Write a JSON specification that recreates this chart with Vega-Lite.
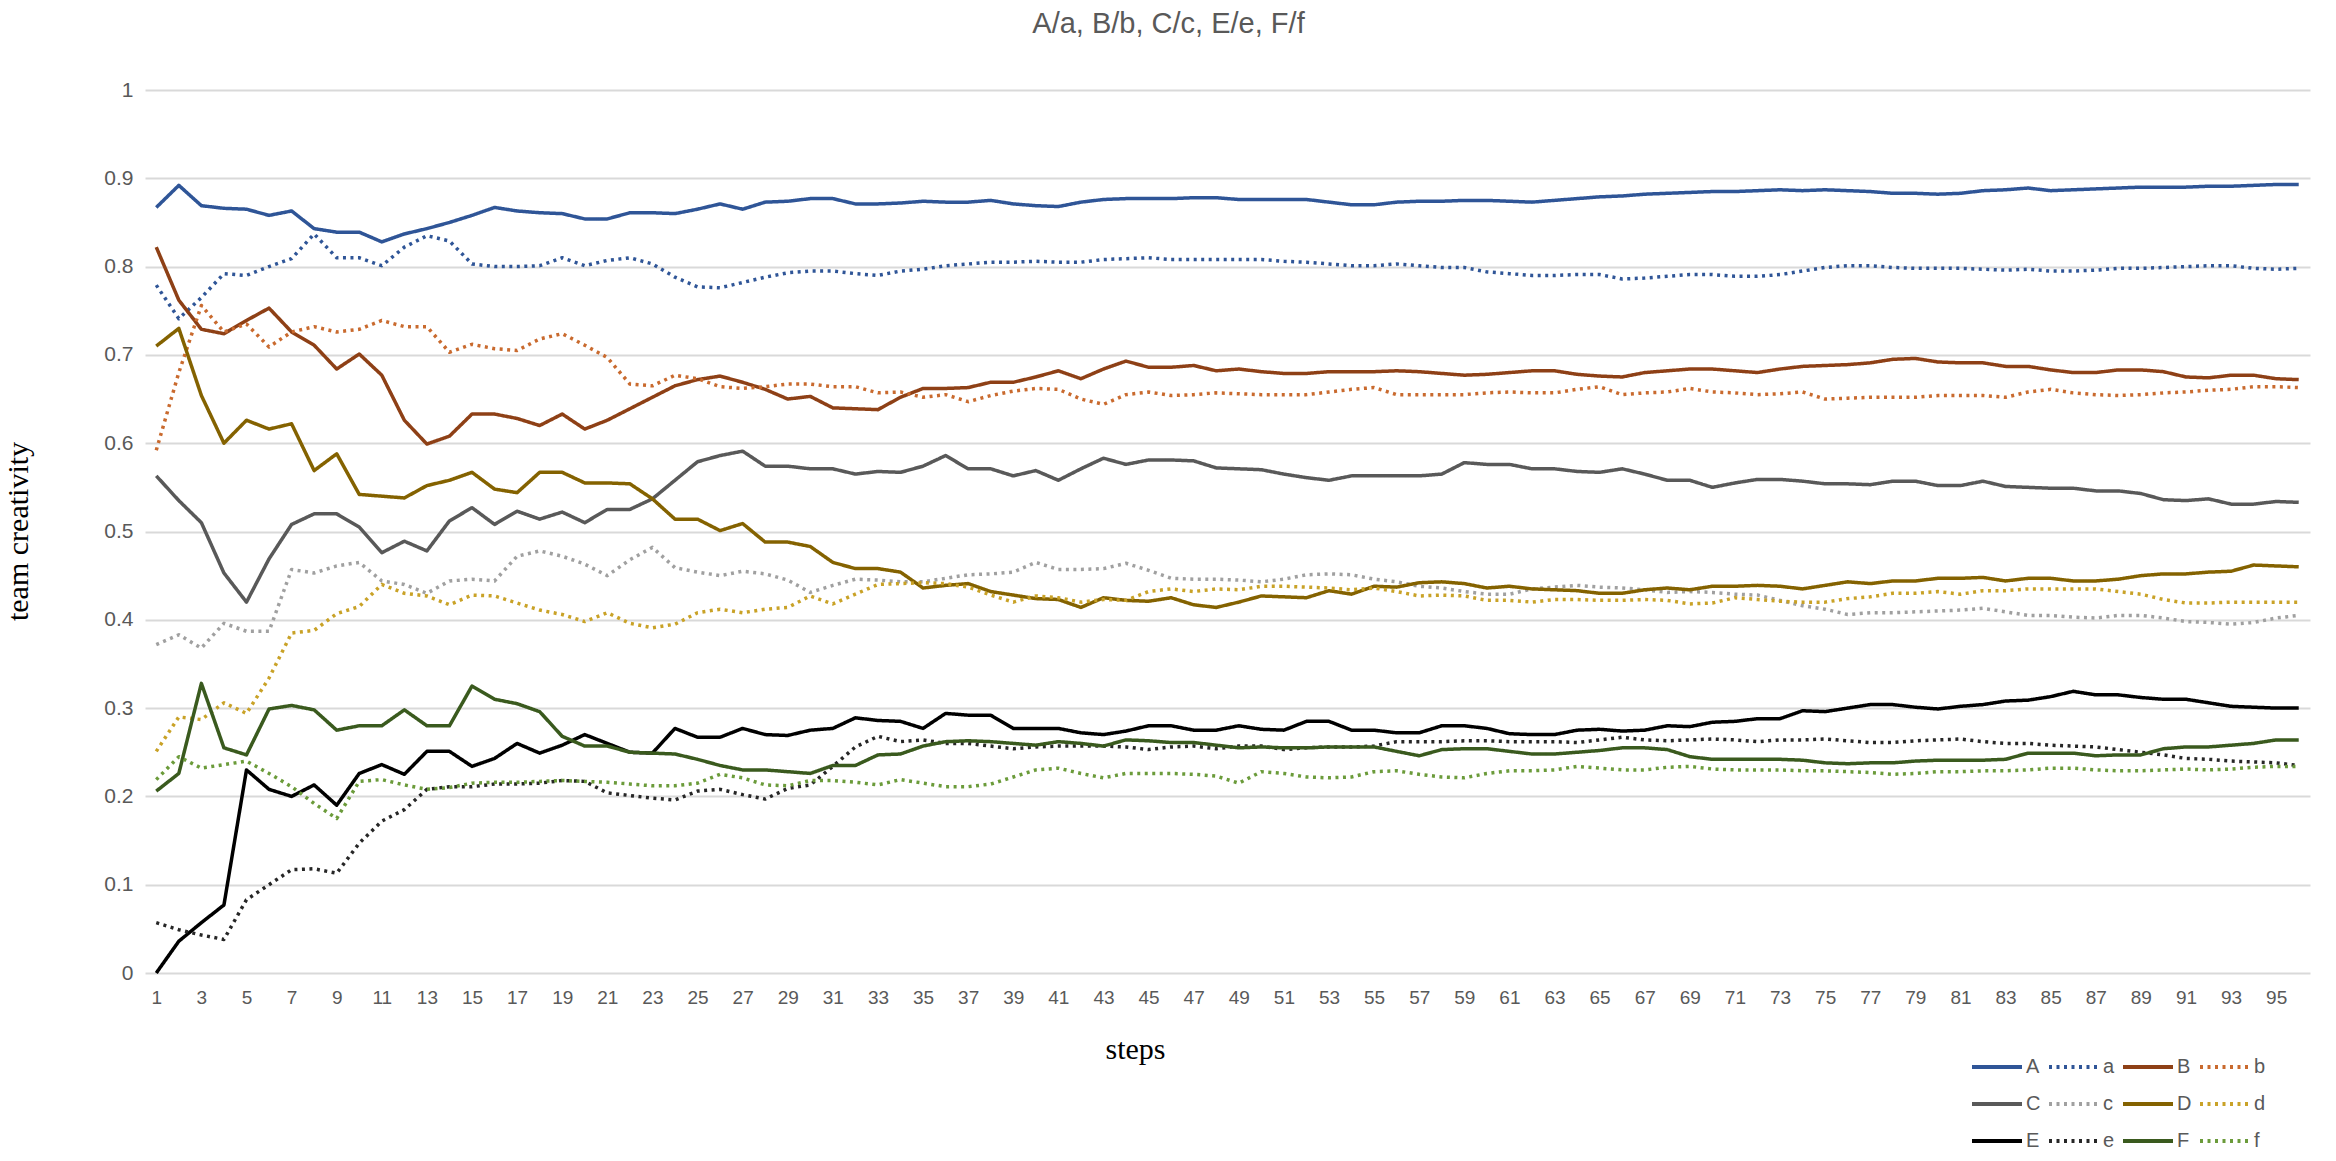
{
  "$schema": "https://vega.github.io/schema/vega-lite/v6.json",
  "width": 2165,
  "height": 883,
  "autosize": {"type": "none"},
  "padding": {"left": 145, "top": 90, "right": 26, "bottom": 188},
  "background": "white",
  "config": {"view": {"stroke": null}, "font": "Liberation Sans"},
  "title": {
    "text": "A/a, B/b, C/c, E/e, F/f",
    "fontSize": 29,
    "fontWeight": "normal",
    "color": "#595959",
    "font": "Liberation Sans",
    "frame": "group",
    "anchor": "middle",
    "dx": -59,
    "offset": 40
  },
  "data": {
    "values": [
      {"s":1,"A":0.867,"a":0.779,"B":0.822,"b":0.592,"C":0.563,"c":0.372,"D":0.71,"d":0.251,"E":0,"e":0.057,"F":0.206,"f":0.219},
      {"s":2,"A":0.892,"a":0.741,"B":0.762,"b":0.68,"C":0.535,"c":0.383,"D":0.73,"d":0.29,"E":0.036,"e":0.049,"F":0.226,"f":0.245},
      {"s":3,"A":0.869,"a":0.765,"B":0.729,"b":0.756,"C":0.51,"c":0.368,"D":0.654,"d":0.287,"E":0.057,"e":0.043,"F":0.328,"f":0.232},
      {"s":4,"A":0.866,"a":0.792,"B":0.724,"b":0.726,"C":0.453,"c":0.396,"D":0.6,"d":0.306,"E":0.077,"e":0.038,"F":0.255,"f":0.236},
      {"s":5,"A":0.865,"a":0.79,"B":0.739,"b":0.735,"C":0.42,"c":0.387,"D":0.626,"d":0.294,"E":0.23,"e":0.083,"F":0.247,"f":0.24},
      {"s":6,"A":0.858,"a":0.8,"B":0.753,"b":0.709,"C":0.469,"c":0.387,"D":0.616,"d":0.334,"E":0.208,"e":0.1,"F":0.299,"f":0.226},
      {"s":7,"A":0.863,"a":0.809,"B":0.726,"b":0.726,"C":0.508,"c":0.457,"D":0.622,"d":0.385,"E":0.2,"e":0.117,"F":0.303,"f":0.211},
      {"s":8,"A":0.843,"a":0.837,"B":0.711,"b":0.732,"C":0.52,"c":0.453,"D":0.569,"d":0.388,"E":0.213,"e":0.118,"F":0.298,"f":0.192},
      {"s":9,"A":0.839,"a":0.81,"B":0.684,"b":0.726,"C":0.52,"c":0.461,"D":0.588,"d":0.407,"E":0.19,"e":0.113,"F":0.275,"f":0.175},
      {"s":10,"A":0.839,"a":0.81,"B":0.701,"b":0.729,"C":0.505,"c":0.465,"D":0.542,"d":0.415,"E":0.226,"e":0.147,"F":0.28,"f":0.217},
      {"s":11,"A":0.828,"a":0.801,"B":0.677,"b":0.739,"C":0.476,"c":0.444,"D":0.54,"d":0.44,"E":0.236,"e":0.172,"F":0.28,"f":0.219},
      {"s":12,"A":0.837,"a":0.822,"B":0.626,"b":0.732,"C":0.489,"c":0.44,"D":0.538,"d":0.43,"E":0.225,"e":0.185,"F":0.298,"f":0.213},
      {"s":13,"A":0.843,"a":0.835,"B":0.599,"b":0.732,"C":0.478,"c":0.43,"D":0.552,"d":0.427,"E":0.251,"e":0.208,"F":0.28,"f":0.208},
      {"s":14,"A":0.85,"a":0.829,"B":0.608,"b":0.703,"C":0.512,"c":0.444,"D":0.558,"d":0.417,"E":0.251,"e":0.211,"F":0.28,"f":0.21},
      {"s":15,"A":0.858,"a":0.803,"B":0.633,"b":0.712,"C":0.527,"c":0.446,"D":0.567,"d":0.428,"E":0.234,"e":0.211,"F":0.325,"f":0.215},
      {"s":16,"A":0.867,"a":0.8,"B":0.633,"b":0.707,"C":0.508,"c":0.444,"D":0.548,"d":0.427,"E":0.243,"e":0.214,"F":0.31,"f":0.216},
      {"s":17,"A":0.863,"a":0.8,"B":0.628,"b":0.705,"C":0.523,"c":0.472,"D":0.544,"d":0.419,"E":0.26,"e":0.214,"F":0.305,"f":0.216},
      {"s":18,"A":0.861,"a":0.801,"B":0.62,"b":0.718,"C":0.514,"c":0.478,"D":0.567,"d":0.411,"E":0.249,"e":0.215,"F":0.296,"f":0.217},
      {"s":19,"A":0.86,"a":0.81,"B":0.633,"b":0.724,"C":0.522,"c":0.472,"D":0.567,"d":0.406,"E":0.258,"e":0.218,"F":0.268,"f":0.218},
      {"s":20,"A":0.854,"a":0.801,"B":0.616,"b":0.711,"C":0.51,"c":0.463,"D":0.555,"d":0.398,"E":0.27,"e":0.217,"F":0.257,"f":0.217},
      {"s":21,"A":0.854,"a":0.807,"B":0.626,"b":0.697,"C":0.525,"c":0.45,"D":0.555,"d":0.408,"E":0.26,"e":0.204,"F":0.257,"f":0.216},
      {"s":22,"A":0.861,"a":0.81,"B":0.639,"b":0.667,"C":0.525,"c":0.468,"D":0.554,"d":0.396,"E":0.25,"e":0.201,"F":0.25,"f":0.214},
      {"s":23,"A":0.861,"a":0.803,"B":0.652,"b":0.665,"C":0.537,"c":0.482,"D":0.537,"d":0.391,"E":0.249,"e":0.198,"F":0.249,"f":0.212},
      {"s":24,"A":0.86,"a":0.788,"B":0.665,"b":0.677,"C":0.558,"c":0.459,"D":0.514,"d":0.395,"E":0.277,"e":0.196,"F":0.248,"f":0.212},
      {"s":25,"A":0.865,"a":0.777,"B":0.672,"b":0.673,"C":0.579,"c":0.454,"D":0.514,"d":0.408,"E":0.267,"e":0.206,"F":0.242,"f":0.215},
      {"s":26,"A":0.871,"a":0.776,"B":0.676,"b":0.664,"C":0.586,"c":0.45,"D":0.501,"d":0.412,"E":0.267,"e":0.208,"F":0.235,"f":0.225},
      {"s":27,"A":0.865,"a":0.782,"B":0.669,"b":0.662,"C":0.591,"c":0.455,"D":0.509,"d":0.408,"E":0.277,"e":0.202,"F":0.23,"f":0.221},
      {"s":28,"A":0.873,"a":0.788,"B":0.661,"b":0.664,"C":0.574,"c":0.452,"D":0.488,"d":0.412,"E":0.27,"e":0.197,"F":0.23,"f":0.213},
      {"s":29,"A":0.874,"a":0.793,"B":0.65,"b":0.667,"C":0.574,"c":0.445,"D":0.488,"d":0.414,"E":0.269,"e":0.209,"F":0.228,"f":0.212},
      {"s":30,"A":0.877,"a":0.795,"B":0.653,"b":0.667,"C":0.571,"c":0.431,"D":0.483,"d":0.427,"E":0.275,"e":0.213,"F":0.226,"f":0.218},
      {"s":31,"A":0.877,"a":0.795,"B":0.64,"b":0.664,"C":0.571,"c":0.439,"D":0.465,"d":0.418,"E":0.277,"e":0.234,"F":0.235,"f":0.218},
      {"s":32,"A":0.871,"a":0.792,"B":0.639,"b":0.664,"C":0.565,"c":0.446,"D":0.458,"d":0.429,"E":0.289,"e":0.256,"F":0.235,"f":0.216},
      {"s":33,"A":0.871,"a":0.79,"B":0.638,"b":0.657,"C":0.568,"c":0.445,"D":0.458,"d":0.44,"E":0.286,"e":0.268,"F":0.247,"f":0.213},
      {"s":34,"A":0.872,"a":0.795,"B":0.652,"b":0.658,"C":0.567,"c":0.443,"D":0.454,"d":0.441,"E":0.285,"e":0.262,"F":0.248,"f":0.219},
      {"s":35,"A":0.874,"a":0.797,"B":0.662,"b":0.652,"C":0.574,"c":0.443,"D":0.436,"d":0.442,"E":0.277,"e":0.264,"F":0.257,"f":0.215},
      {"s":36,"A":0.873,"a":0.801,"B":0.662,"b":0.655,"C":0.586,"c":0.447,"D":0.439,"d":0.441,"E":0.294,"e":0.26,"F":0.262,"f":0.211},
      {"s":37,"A":0.873,"a":0.803,"B":0.663,"b":0.647,"C":0.571,"c":0.451,"D":0.441,"d":0.437,"E":0.292,"e":0.26,"F":0.263,"f":0.211},
      {"s":38,"A":0.875,"a":0.805,"B":0.669,"b":0.654,"C":0.571,"c":0.452,"D":0.432,"d":0.428,"E":0.292,"e":0.257,"F":0.262,"f":0.214},
      {"s":39,"A":0.871,"a":0.805,"B":0.669,"b":0.659,"C":0.563,"c":0.454,"D":0.428,"d":0.42,"E":0.277,"e":0.254,"F":0.26,"f":0.222},
      {"s":40,"A":0.869,"a":0.806,"B":0.675,"b":0.662,"C":0.569,"c":0.465,"D":0.424,"d":0.427,"E":0.277,"e":0.256,"F":0.258,"f":0.23},
      {"s":41,"A":0.868,"a":0.805,"B":0.682,"b":0.661,"C":0.558,"c":0.457,"D":0.423,"d":0.425,"E":0.277,"e":0.257,"F":0.262,"f":0.232},
      {"s":42,"A":0.873,"a":0.805,"B":0.673,"b":0.65,"C":0.571,"c":0.457,"D":0.414,"d":0.42,"E":0.272,"e":0.257,"F":0.26,"f":0.226},
      {"s":43,"A":0.876,"a":0.808,"B":0.684,"b":0.644,"C":0.583,"c":0.458,"D":0.425,"d":0.423,"E":0.27,"e":0.257,"F":0.257,"f":0.221},
      {"s":44,"A":0.877,"a":0.809,"B":0.693,"b":0.655,"C":0.576,"c":0.464,"D":0.422,"d":0.422,"E":0.274,"e":0.256,"F":0.264,"f":0.226},
      {"s":45,"A":0.877,"a":0.81,"B":0.686,"b":0.658,"C":0.581,"c":0.456,"D":0.421,"d":0.432,"E":0.28,"e":0.253,"F":0.263,"f":0.226},
      {"s":46,"A":0.877,"a":0.808,"B":0.686,"b":0.654,"C":0.581,"c":0.447,"D":0.425,"d":0.435,"E":0.28,"e":0.256,"F":0.261,"f":0.226},
      {"s":47,"A":0.878,"a":0.808,"B":0.688,"b":0.655,"C":0.58,"c":0.446,"D":0.417,"d":0.432,"E":0.275,"e":0.257,"F":0.261,"f":0.225},
      {"s":48,"A":0.878,"a":0.808,"B":0.682,"b":0.657,"C":0.572,"c":0.446,"D":0.414,"d":0.435,"E":0.275,"e":0.254,"F":0.258,"f":0.223},
      {"s":49,"A":0.876,"a":0.808,"B":0.684,"b":0.656,"C":0.571,"c":0.445,"D":0.42,"d":0.434,"E":0.28,"e":0.257,"F":0.255,"f":0.215},
      {"s":50,"A":0.876,"a":0.808,"B":0.681,"b":0.655,"C":0.57,"c":0.443,"D":0.427,"d":0.438,"E":0.276,"e":0.257,"F":0.256,"f":0.228},
      {"s":51,"A":0.876,"a":0.806,"B":0.679,"b":0.655,"C":0.565,"c":0.446,"D":0.426,"d":0.438,"E":0.275,"e":0.253,"F":0.255,"f":0.226},
      {"s":52,"A":0.876,"a":0.805,"B":0.679,"b":0.655,"C":0.561,"c":0.451,"D":0.425,"d":0.437,"E":0.285,"e":0.255,"F":0.255,"f":0.222},
      {"s":53,"A":0.873,"a":0.803,"B":0.681,"b":0.658,"C":0.558,"c":0.452,"D":0.433,"d":0.436,"E":0.285,"e":0.256,"F":0.256,"f":0.221},
      {"s":54,"A":0.87,"a":0.801,"B":0.681,"b":0.661,"C":0.563,"c":0.451,"D":0.429,"d":0.434,"E":0.275,"e":0.256,"F":0.256,"f":0.222},
      {"s":55,"A":0.87,"a":0.801,"B":0.681,"b":0.663,"C":0.563,"c":0.446,"D":0.438,"d":0.436,"E":0.275,"e":0.257,"F":0.256,"f":0.228},
      {"s":56,"A":0.873,"a":0.803,"B":0.682,"b":0.655,"C":0.563,"c":0.443,"D":0.437,"d":0.432,"E":0.272,"e":0.262,"F":0.251,"f":0.229},
      {"s":57,"A":0.874,"a":0.801,"B":0.681,"b":0.655,"C":0.563,"c":0.438,"D":0.442,"d":0.427,"E":0.272,"e":0.262,"F":0.246,"f":0.225},
      {"s":58,"A":0.874,"a":0.799,"B":0.679,"b":0.655,"C":0.565,"c":0.436,"D":0.443,"d":0.428,"E":0.28,"e":0.262,"F":0.253,"f":0.222},
      {"s":59,"A":0.875,"a":0.799,"B":0.677,"b":0.655,"C":0.578,"c":0.432,"D":0.441,"d":0.427,"E":0.28,"e":0.263,"F":0.254,"f":0.221},
      {"s":60,"A":0.875,"a":0.794,"B":0.678,"b":0.657,"C":0.576,"c":0.429,"D":0.436,"d":0.422,"E":0.277,"e":0.263,"F":0.254,"f":0.226},
      {"s":61,"A":0.874,"a":0.792,"B":0.68,"b":0.658,"C":0.576,"c":0.429,"D":0.438,"d":0.422,"E":0.271,"e":0.262,"F":0.251,"f":0.229},
      {"s":62,"A":0.873,"a":0.79,"B":0.682,"b":0.657,"C":0.571,"c":0.435,"D":0.435,"d":0.42,"E":0.27,"e":0.262,"F":0.248,"f":0.229},
      {"s":63,"A":0.875,"a":0.79,"B":0.682,"b":0.657,"C":0.571,"c":0.437,"D":0.434,"d":0.423,"E":0.27,"e":0.262,"F":0.248,"f":0.23},
      {"s":64,"A":0.877,"a":0.791,"B":0.678,"b":0.661,"C":0.568,"c":0.439,"D":0.433,"d":0.423,"E":0.275,"e":0.261,"F":0.25,"f":0.234},
      {"s":65,"A":0.879,"a":0.791,"B":0.676,"b":0.664,"C":0.567,"c":0.437,"D":0.43,"d":0.422,"E":0.276,"e":0.264,"F":0.252,"f":0.232},
      {"s":66,"A":0.88,"a":0.786,"B":0.675,"b":0.655,"C":0.571,"c":0.436,"D":0.43,"d":0.422,"E":0.274,"e":0.267,"F":0.255,"f":0.23},
      {"s":67,"A":0.882,"a":0.787,"B":0.68,"b":0.657,"C":0.565,"c":0.434,"D":0.434,"d":0.423,"E":0.275,"e":0.264,"F":0.255,"f":0.23},
      {"s":68,"A":0.883,"a":0.789,"B":0.682,"b":0.658,"C":0.558,"c":0.431,"D":0.436,"d":0.422,"E":0.28,"e":0.263,"F":0.253,"f":0.233},
      {"s":69,"A":0.884,"a":0.791,"B":0.684,"b":0.662,"C":0.558,"c":0.432,"D":0.434,"d":0.418,"E":0.279,"e":0.264,"F":0.245,"f":0.234},
      {"s":70,"A":0.885,"a":0.791,"B":0.684,"b":0.658,"C":0.55,"c":0.431,"D":0.438,"d":0.419,"E":0.284,"e":0.265,"F":0.242,"f":0.231},
      {"s":71,"A":0.885,"a":0.789,"B":0.682,"b":0.657,"C":0.555,"c":0.429,"D":0.438,"d":0.425,"E":0.285,"e":0.264,"F":0.242,"f":0.23},
      {"s":72,"A":0.886,"a":0.789,"B":0.68,"b":0.655,"C":0.559,"c":0.428,"D":0.439,"d":0.423,"E":0.288,"e":0.262,"F":0.242,"f":0.23},
      {"s":73,"A":0.887,"a":0.791,"B":0.684,"b":0.656,"C":0.559,"c":0.422,"D":0.438,"d":0.421,"E":0.288,"e":0.264,"F":0.242,"f":0.23},
      {"s":74,"A":0.886,"a":0.795,"B":0.687,"b":0.658,"C":0.557,"c":0.416,"D":0.435,"d":0.42,"E":0.297,"e":0.264,"F":0.241,"f":0.229},
      {"s":75,"A":0.887,"a":0.799,"B":0.688,"b":0.65,"C":0.554,"c":0.412,"D":0.439,"d":0.42,"E":0.296,"e":0.265,"F":0.238,"f":0.229},
      {"s":76,"A":0.886,"a":0.801,"B":0.689,"b":0.651,"C":0.554,"c":0.406,"D":0.443,"d":0.424,"E":0.3,"e":0.263,"F":0.237,"f":0.228},
      {"s":77,"A":0.885,"a":0.801,"B":0.691,"b":0.652,"C":0.553,"c":0.408,"D":0.441,"d":0.426,"E":0.304,"e":0.261,"F":0.238,"f":0.227},
      {"s":78,"A":0.883,"a":0.799,"B":0.695,"b":0.652,"C":0.557,"c":0.408,"D":0.444,"d":0.43,"E":0.304,"e":0.261,"F":0.238,"f":0.225},
      {"s":79,"A":0.883,"a":0.798,"B":0.696,"b":0.652,"C":0.557,"c":0.409,"D":0.444,"d":0.43,"E":0.301,"e":0.263,"F":0.24,"f":0.226},
      {"s":80,"A":0.882,"a":0.798,"B":0.692,"b":0.654,"C":0.552,"c":0.41,"D":0.447,"d":0.432,"E":0.299,"e":0.264,"F":0.241,"f":0.228},
      {"s":81,"A":0.883,"a":0.798,"B":0.691,"b":0.654,"C":0.552,"c":0.411,"D":0.447,"d":0.429,"E":0.302,"e":0.265,"F":0.241,"f":0.228},
      {"s":82,"A":0.886,"a":0.797,"B":0.691,"b":0.654,"C":0.557,"c":0.413,"D":0.448,"d":0.433,"E":0.304,"e":0.262,"F":0.241,"f":0.229},
      {"s":83,"A":0.887,"a":0.796,"B":0.687,"b":0.652,"C":0.551,"c":0.409,"D":0.444,"d":0.433,"E":0.308,"e":0.26,"F":0.242,"f":0.229},
      {"s":84,"A":0.889,"a":0.797,"B":0.687,"b":0.658,"C":0.55,"c":0.405,"D":0.447,"d":0.435,"E":0.309,"e":0.26,"F":0.249,"f":0.23},
      {"s":85,"A":0.886,"a":0.795,"B":0.683,"b":0.661,"C":0.549,"c":0.405,"D":0.447,"d":0.435,"E":0.313,"e":0.258,"F":0.249,"f":0.232},
      {"s":86,"A":0.887,"a":0.795,"B":0.68,"b":0.657,"C":0.549,"c":0.403,"D":0.444,"d":0.435,"E":0.319,"e":0.257,"F":0.249,"f":0.232},
      {"s":87,"A":0.888,"a":0.796,"B":0.68,"b":0.655,"C":0.546,"c":0.402,"D":0.444,"d":0.435,"E":0.315,"e":0.256,"F":0.246,"f":0.23},
      {"s":88,"A":0.889,"a":0.798,"B":0.683,"b":0.654,"C":0.546,"c":0.405,"D":0.446,"d":0.432,"E":0.315,"e":0.253,"F":0.247,"f":0.229},
      {"s":89,"A":0.89,"a":0.798,"B":0.683,"b":0.655,"C":0.543,"c":0.405,"D":0.45,"d":0.429,"E":0.312,"e":0.25,"F":0.247,"f":0.229},
      {"s":90,"A":0.89,"a":0.799,"B":0.681,"b":0.657,"C":0.536,"c":0.402,"D":0.452,"d":0.423,"E":0.31,"e":0.247,"F":0.254,"f":0.23},
      {"s":91,"A":0.89,"a":0.8,"B":0.675,"b":0.658,"C":0.535,"c":0.398,"D":0.452,"d":0.419,"E":0.31,"e":0.243,"F":0.256,"f":0.231},
      {"s":92,"A":0.891,"a":0.801,"B":0.674,"b":0.66,"C":0.537,"c":0.397,"D":0.454,"d":0.419,"E":0.306,"e":0.242,"F":0.256,"f":0.23},
      {"s":93,"A":0.891,"a":0.801,"B":0.677,"b":0.661,"C":0.531,"c":0.395,"D":0.455,"d":0.42,"E":0.302,"e":0.24,"F":0.258,"f":0.231},
      {"s":94,"A":0.892,"a":0.798,"B":0.677,"b":0.664,"C":0.531,"c":0.397,"D":0.462,"d":0.42,"E":0.301,"e":0.239,"F":0.26,"f":0.233},
      {"s":95,"A":0.893,"a":0.797,"B":0.673,"b":0.664,"C":0.534,"c":0.402,"D":0.461,"d":0.42,"E":0.3,"e":0.238,"F":0.264,"f":0.234},
      {"s":96,"A":0.893,"a":0.798,"B":0.672,"b":0.663,"C":0.533,"c":0.405,"D":0.46,"d":0.42,"E":0.3,"e":0.235,"F":0.264,"f":0.234}
    ]
  },
  "transform": [
    {"fold": ["A", "a", "B", "b", "C", "c", "D", "d", "E", "e", "F", "f"], "as": ["series", "value"]}
  ],
  "mark": {"type": "line", "strokeWidth": 3.5, "strokeJoin": "round", "strokeCap": "butt"},
  "encoding": {
    "x": {
      "field": "s",
      "type": "quantitative",
      "scale": {"domain": [0.5, 96.5], "nice": false, "zero": false},
      "axis": {
        "values": [1,3,5,7,9,11,13,15,17,19,21,23,25,27,29,31,33,35,37,39,41,43,45,47,49,51,53,55,57,59,61,63,65,67,69,71,73,75,77,79,81,83,85,87,89,91,93,95],
        "grid": false,
        "ticks": false,
        "domain": false,
        "labelFont": "Liberation Sans",
        "labelFontSize": 19,
        "labelColor": "#595959",
        "labelPadding": 15,
        "labelOverlap": false,
        "title": "steps",
        "titleFont": "Liberation Serif",
        "titleFontSize": 30,
        "titleFontWeight": "normal",
        "titleColor": "#000000",
        "titleX": 990,
        "titleY": 76,
        "titleBaseline": "middle",
        "titleAlign": "center"
      }
    },
    "y": {
      "field": "value",
      "type": "quantitative",
      "scale": {"domain": [0, 1], "nice": false},
      "axis": {
        "values": [0, 0.1, 0.2, 0.3, 0.4, 0.5, 0.6, 0.7, 0.8, 0.9, 1],
        "format": "~f",
        "grid": true,
        "gridColor": "#D9D9D9",
        "gridWidth": 2,
        "ticks": false,
        "domain": false,
        "labelFont": "Liberation Sans",
        "labelFontSize": 21,
        "labelColor": "#595959",
        "labelPadding": 12,
        "title": "team creativity",
        "titleFont": "Liberation Serif",
        "titleFontSize": 30,
        "titleFontWeight": "normal",
        "titleColor": "#000000",
        "titleAngle": -90,
        "titleX": -127,
        "titleY": 441,
        "titleAlign": "center",
        "titleBaseline": "middle"
      }
    },
    "color": {
      "field": "series",
      "type": "nominal",
      "scale": {
        "domain": ["A", "a", "B", "b", "C", "c", "D", "d", "E", "e", "F", "f"],
        "range": ["#2F5597", "#2F5597", "#8E4016", "#C96A2E", "#595959", "#A0A0A0", "#846200", "#C9A227", "#000000", "#262626", "#3A5A1E", "#6B9B3A"]
      },
      "legend": {
        "orient": "none",
        "legendX": 1825,
        "legendY": 950,
        "direction": "horizontal",
        "columns": 4,
        "title": null,
        "padding": 0,
        "symbolType": "stroke",
        "symbolSize": 2500,
        "symbolStrokeWidth": 4,
        "labelFont": "Liberation Sans",
        "labelFontSize": 20,
        "labelColor": "#595959",
        "labelOffset": 2,
        "columnPadding": 0,
        "rowPadding": -22
      }
    },
    "strokeDash": {
      "field": "series",
      "type": "nominal",
      "scale": {
        "domain": ["A", "a", "B", "b", "C", "c", "D", "d", "E", "e", "F", "f"],
        "range": [[1, 0], [3, 4.5], [1, 0], [3, 4.5], [1, 0], [3, 4.5], [1, 0], [3, 4.5], [1, 0], [3, 4.5], [1, 0], [3, 4.5]]
      }
    }
  }
}
